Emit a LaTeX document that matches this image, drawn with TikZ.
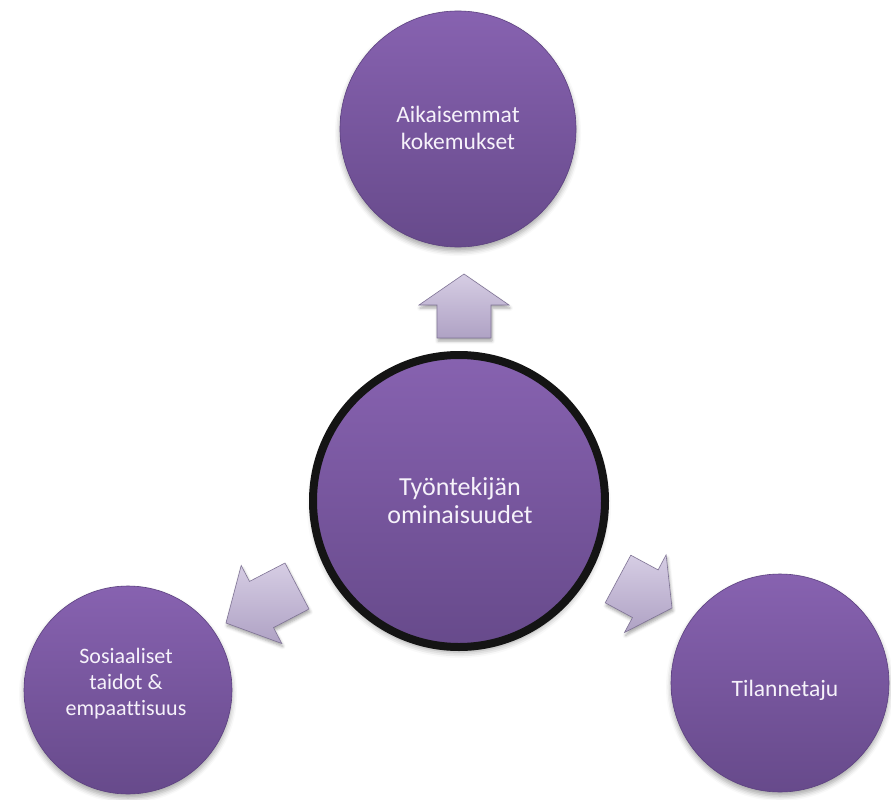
\documentclass[tikz,border=0pt]{standalone}
\usepackage{fontspec}
\setmainfont{Carlito}[Ligatures=NoCommon]
\usetikzlibrary{shadows.blur}
\definecolor{purpTop}{HTML}{8762B0}
\definecolor{purpBot}{HTML}{674A8B}
\definecolor{purpEdge}{HTML}{5C4180}
\definecolor{arrTop}{HTML}{D6CDE4}
\definecolor{arrBot}{HTML}{AFA2C4}
\definecolor{arrEdge}{HTML}{7F7395}
\definecolor{txt}{HTML}{F6F2FA}
\tikzset{
  bubble/.style={circle, inner sep=0pt, top color=purpTop, bottom color=purpBot,
    draw=purpEdge, line width=0.6pt,
    blur shadow={shadow xshift=0pt, shadow yshift=-4pt, shadow blur radius=5pt, shadow opacity=35}},
  hub/.style={circle, inner sep=0pt, top color=purpTop, bottom color=purpBot,
    draw=black!92, line width=8pt,
    blur shadow={shadow xshift=0pt, shadow yshift=-5pt, shadow blur radius=6pt, shadow opacity=40}},
  label/.style={text=txt, align=center, inner sep=0pt},
  blockarrow/.style={top color=arrTop, bottom color=arrBot, draw=arrEdge, line width=0.6pt,
    line join=miter,
    blur shadow={shadow xshift=1pt, shadow yshift=-3pt, shadow blur radius=3pt, shadow opacity=35}}
}
\begin{document}
\begin{tikzpicture}[x=1pt, y=-1pt]
\useasboundingbox (0,0) rectangle (891,800);

% circles
\node[bubble, minimum size=236pt] (top) at (458,129) {};
\node[bubble, minimum size=208pt] (left) at (128,690) {};
\node[bubble, minimum size=218pt] (right) at (780,683) {};
\node[hub, minimum size=292pt] (hub) at (459,501) {};

% labels
\node[label, font=\fontsize{23.5}{26.5}\selectfont] (toptxt) at (458,128) {Aikaisemmat\\kokemukset};
\node[label, font=\fontsize{26}{28}\selectfont] (hubtxt) at (460,501) {Työntekijän\\ominaisuudet};
\node[label, font=\fontsize{22}{26}\selectfont] (lefttxt) at (126,684) {Sosiaaliset\\taidot \&\\empaattisuus};
\node[label, font=\fontsize{23.5}{26}\selectfont] (righttxt) at (785,690) {Tilannetaju};

% block arrows
\draw[blockarrow] (437,338) -- (437,305) -- (419,305) -- (464,274) -- (509,305) -- (491,305) -- (491,338) -- cycle;
\draw[blockarrow] (285,563) -- (249.5,581.4) -- (241.2,565.5) -- (226,623) -- (281.8,643.5) -- (273.5,627.6) -- (309,609) -- cycle;
\draw[blockarrow] (630.8,555.2) -- (658.1,569.9) -- (666.1,554.9) -- (672,608) -- (624.5,632.5) -- (632.5,617.5) -- (605.2,602.8) -- cycle;
\end{tikzpicture}
\end{document}
